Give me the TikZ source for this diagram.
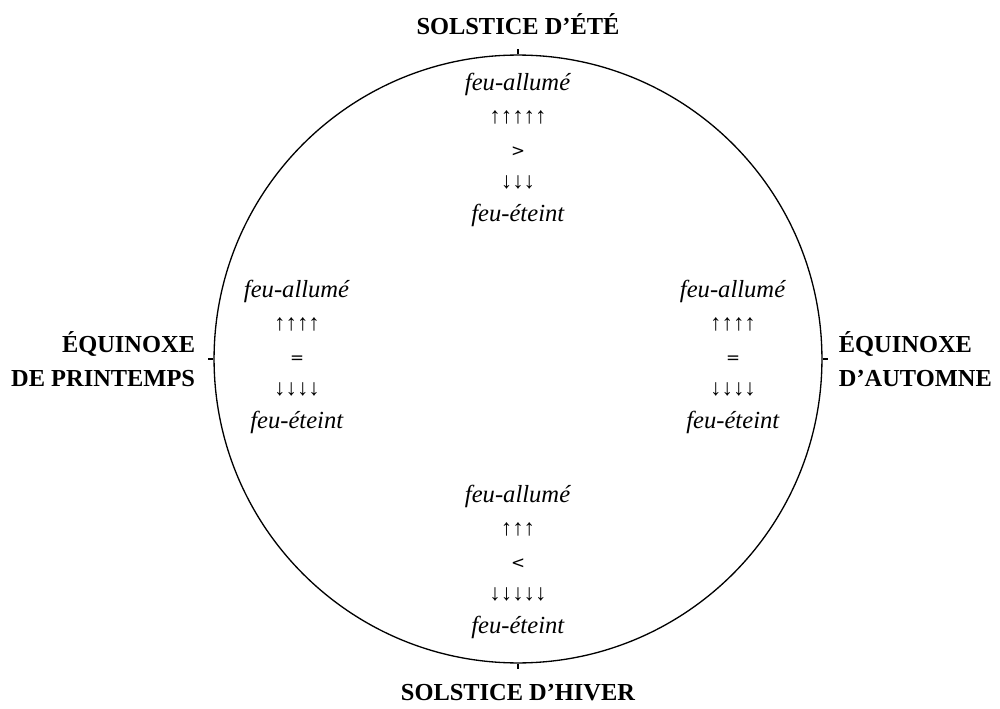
\documentclass[tikz,border=0pt]{standalone}
\usepackage{fontspec}
\setmainfont{Liberation Serif}
\newfontfamily\symbfont{DejaVu Sans}
\newfontfamily\flechfont{Liberation Sans}
\usetikzlibrary{positioning}
\tikzset{
  saison/.style = {font=\fontsize{13.9}{19.3}\selectfont\bfseries, inner sep=0pt},
  bilan/.style  = {font=\fontsize{14}{18.7}\selectfont, align=center, inner sep=0pt},
  trait/.style  = {line width=0.75pt},
}
\newcommand\fleches[1]{{\flechfont\fontsize{13}{18.7}\selectfont #1}}
\newcommand\signe[1]{{\symbfont\fontsize{9.5}{18.7}\selectfont #1}}

\begin{document}
\begin{tikzpicture}[x=0.02cm, y=-0.02cm]
\useasboundingbox (0,0) rectangle (1000,709);

\node[trait, draw, circle, minimum size=12.16cm, inner sep=0pt] (cercle) at (518,359) {};
\draw[trait] (cercle.north) -- ++(0,-5);
\draw[trait] (cercle.south) -- ++(0,5);
\draw[trait] (cercle.west) -- ++(-5,0);
\draw[trait] (cercle.east) -- ++(5,0);

\node[saison, above=0.38cm of cercle.north] (ete) {SOLSTICE D’ÉTÉ};
\node[saison, below=0.40cm of cercle.south] (hiver) {SOLSTICE D’HIVER};
\node[saison, align=right, left=0.36cm of cercle.west] (printemps) {ÉQUINOXE\\DE PRINTEMPS};
\node[saison, align=left, right=0.32cm of cercle.east] (automne) {ÉQUINOXE\\D’AUTOMNE};

\node[bilan] (bilanete) at (518,150) {\textit{feu-allumé}\\ \fleches{↑↑↑↑↑}\\ \signe{>}\\ \fleches{↓↓↓}\\ \textit{feu-éteint}};
\node[bilan] (bilanprintemps) at (297,357) {\textit{feu-allumé}\\ \fleches{↑↑↑↑}\\ \signe{=}\\ \fleches{↓↓↓↓}\\ \textit{feu-éteint}};
\node[bilan] (bilanautomne) at (733,357) {\textit{feu-allumé}\\ \fleches{↑↑↑↑}\\ \signe{=}\\ \fleches{↓↓↓↓}\\ \textit{feu-éteint}};
\node[bilan] (bilanhiver) at (518,562) {\textit{feu-allumé}\\ \fleches{↑↑↑}\\ \signe{<}\\ \fleches{↓↓↓↓↓}\\ \textit{feu-éteint}};

\end{tikzpicture}
\end{document}
